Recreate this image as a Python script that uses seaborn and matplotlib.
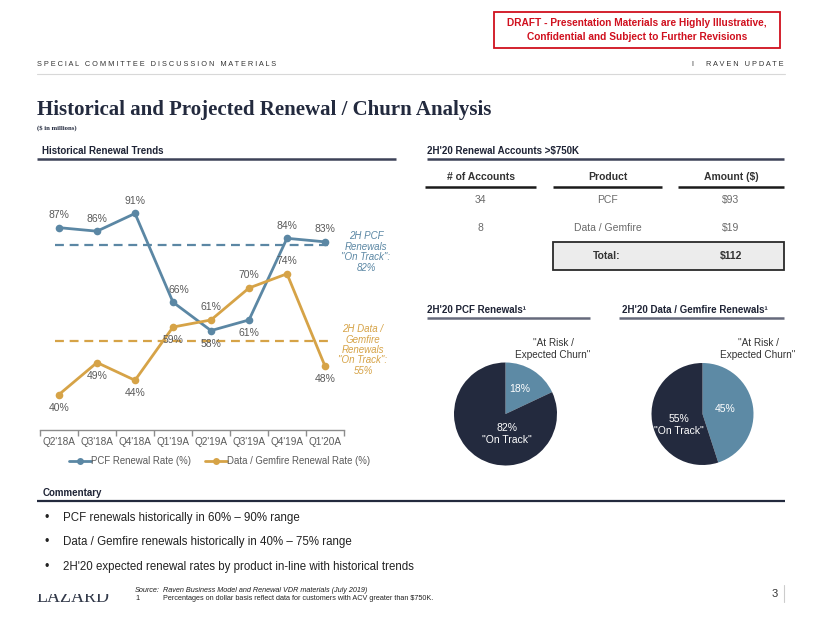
import numpy as np
import pandas as pd
import matplotlib
matplotlib.use("Agg")
import matplotlib.pyplot as plt
import seaborn as sns
from matplotlib.patches import Rectangle
from matplotlib.lines import Line2D

# ---------------- data ----------------
quarters = ["Q2'18A", "Q3'18A", "Q4'18A", "Q1'19A", "Q2'19A", "Q3'19A", "Q4'19A", "Q1'20A"]
pcf_rate = [87, 86, 91, 66, 58, 61, 84, 83]
data_rate = [40, 49, 44, 59, 61, 70, 74, 48]
pcf_label_pos = ["above", "above", "above", "above", "below", "below", "above", "above"]
data_label_pos = ["below", "below", "below", "below", "above", "above", "above", "below"]
series_names = ["PCF Renewal Rate (%)", "Data / Gemfire Renewal Rate (%)"]
pcf_target = 82
data_target = 55

table_headers = ["# of Accounts", "Product", "Amount ($)"]
table_accounts = ["34", "8"]
table_products = ["PCF", "Data / Gemfire"]
table_amounts = ["$93", "$19"]
total_amount = "$112"

pie_labels = ["At Risk / Expected Churn", "On Track"]
pcf_pie = [18, 82]
data_pie = [45, 55]

bullets = [
    "PCF renewals historically in 60% \u2013 90% range",
    "Data / Gemfire renewals historically in 40% \u2013 75% range",
    "2H'20 expected renewal rates by product in-line with historical trends",
]

# ---------------- style ----------------
BLUE = "#5b87a4"
ORANGE = "#d6a347"
NAVY = "#232a3e"
LIGHT = "#5d8aa5"
GRAY = "#5a5a5a"
RED = "#d0101e"

sns.set_theme(style="white")
plt.rcParams['font.family'] = ['Liberation Sans', 'DejaVu Sans']

W, H = 822, 635
fig = plt.figure(figsize=(8.22, 6.35), dpi=100)
fig.patch.set_facecolor("white")


def fx(x):
    return x / W


def fy(y):
    return 1 - y / H


ov = fig.add_axes([0, 0, 1, 1])
ov.set_xlim(0, W)
ov.set_ylim(H, 0)
ov.axis("off")
ov.patch.set_alpha(0)

# ---------------- header ----------------
ov.add_patch(Rectangle((494, 12), 286, 36, fill=False, edgecolor=RED, lw=1.3))
ov.text(637, 23, "DRAFT - Presentation Materials are Highly Illustrative,", color=RED,
        fontsize=7.3, fontweight="bold", ha="center", va="center")
ov.text(637, 37, "Confidential and Subject to Further Revisions", color=RED,
        fontsize=7.3, fontweight="bold", ha="center", va="center")


def spaced(s):
    return "   ".join(" ".join(w) for w in s.split(" "))


ov.text(37, 64, spaced("SPECIAL COMMITTEE DISCUSSION MATERIALS"), fontsize=5.3,
        color="#333333", ha="left", va="center")
ov.text(783, 64, "I      " + spaced("RAVEN UPDATE"), fontsize=5.3, color="#333333",
        ha="right", va="center")
ov.plot([37, 785], [74, 74], color="#d8d8d8", lw=0.8)

ov.text(37, 110, "Historical and Projected Renewal / Churn Analysis", fontsize=15,
        fontweight="bold", family=["Liberation Serif", "DejaVu Serif"], color=NAVY,
        ha="left", va="center")
ov.text(37, 128, "($ in millions)", fontsize=4.8, fontweight="bold",
        family=["Liberation Serif", "DejaVu Serif"], color=NAVY, ha="left", va="center")


def section(x0, x1, y, title, tx, lw=1.8, color="#3d4258"):
    ov.text(tx, y - 8, title, fontsize=7, fontweight="bold", color="#1f2436",
            ha="left", va="center")
    ov.plot([x0, x1], [y, y], color=color, lw=lw, solid_capstyle="butt")


section(37, 396, 159, "Historical Renewal Trends", 42)
section(427, 784, 159, "2H'20 Renewal Accounts >$750K", 427)
section(427, 590, 318, "2H'20 PCF Renewals\u00b9", 427, color="#666a7c")
section(619, 784, 318, "2H'20 Data / Gemfire Renewals\u00b9", 622, color="#666a7c")
section(37, 785, 501, "Commentary", 43, lw=1.6, color="#232a3e")

# ---------------- line chart ----------------
ax = fig.add_axes([fx(40), fy(430), fx(344) - fx(40), fy(181.5) - fy(430)])
pos = np.arange(len(quarters))
df = pd.DataFrame({
    "pos": np.concatenate([pos, pos]),
    "rate": pcf_rate + data_rate,
    "series": [series_names[0]] * len(pos) + [series_names[1]] * len(pos),
})
sns.lineplot(data=df, x="pos", y="rate", hue="series", palette=[BLUE, ORANGE],
             marker="o", markersize=5.5, markeredgewidth=0, linewidth=2.0,
             sort=False, ax=ax)
ax.set_xlim(-0.5, len(quarters) - 0.5)
ax.set_ylim(30, 100)
ax.set_xlabel("")
ax.set_ylabel("")
ax.set_yticks([])
for s in ["top", "right", "left"]:
    ax.spines[s].set_visible(False)
ax.spines["bottom"].set_color("#8c8c8c")
ax.spines["bottom"].set_linewidth(1.0)
ax.set_xticks(np.arange(-0.5, len(quarters)), labels=[""] * (len(quarters) + 1))
ax.set_xticks(pos, labels=quarters, minor=True)
ax.tick_params(axis="x", which="major", length=4, width=1, color="#8c8c8c",
               direction="out", bottom=True)
ax.tick_params(axis="x", which="minor", length=0, labelsize=7.2, labelcolor=GRAY, pad=5)
ax.patch.set_alpha(0)

for vals, where in [(pcf_rate, pcf_label_pos), (data_rate, data_label_pos)]:
    for i, (v, w) in enumerate(zip(vals, where)):
        off = 9 if w == "above" else -9.5
        ax.annotate(f"{v}%", (i, v), xytext=(4 if (i == 3 and w == "above") else 0, off),
                    textcoords="offset points", ha="center", va="center",
                    fontsize=7.5, color=GRAY)

x0f = (55 - 40) / 304
x1f = (333 - 40) / 304
ax.axhline(pcf_target, xmin=x0f, xmax=x1f, color=BLUE, lw=1.6, dashes=(4, 2.6))
ax.axhline(data_target, xmin=x0f, xmax=x1f, color=ORANGE, lw=1.6, dashes=(4, 2.6))

ov.text(366, 252, f"2H PCF\nRenewals\n\"On Track\":\n{pcf_target}%", color=BLUE,
        fontsize=7, style="italic", ha="center", va="center", linespacing=1.05)
ov.text(363, 350, f"2H Data /\nGemfire\nRenewals\n\"On Track\":\n{data_target}%",
        color=ORANGE, fontsize=7, style="italic", ha="center", va="center",
        linespacing=1.05)

handles = [Line2D([], [], color=c, lw=2, marker="o", markersize=5, markeredgewidth=0)
           for c in [BLUE, ORANGE]]
ax.legend(handles, series_names, loc="center", bbox_to_anchor=(0.59, -0.125),
          ncol=2, frameon=False, fontsize=6.9, handlelength=2.3, handletextpad=0.0,
          columnspacing=1.4, labelcolor=GRAY)

# ---------------- table ----------------
cols = [(425, 536), (553, 662), (678, 784)]
for (a, b), h in zip(cols, table_headers):
    ov.text((a + b) / 2, 177, h, fontsize=7.5, fontweight="bold", color="#333333",
            ha="center", va="center")
    ov.plot([a, b], [187, 187], color="#1a1a1a", lw=1.8, solid_capstyle="butt")
rows_y = [200, 228]
for y, acc, prod, amt in zip(rows_y, table_accounts, table_products, table_amounts):
    for (a, b), t in zip(cols, [acc, prod, amt]):
        ov.text((a + b) / 2, y, t, fontsize=7.5, color="#6a6a6a", ha="center", va="center")
ov.add_patch(Rectangle((553, 242), 231, 28, facecolor="#ececec", edgecolor="#2a2a2a", lw=1.3))
ov.text(607, 256, "Total:", fontsize=7.5, fontweight="bold", color="#333333",
        ha="center", va="center")
ov.text(731, 256, total_amount, fontsize=7.5, fontweight="bold", color="#333333",
        ha="center", va="center")


# ---------------- pies ----------------
def draw_pie(cx, cy, r, vals, risk_txt_xy, on_xy, label_xy):
    pax = fig.add_axes([fx(cx - r), fy(cy + r), 2 * r / W, 2 * r / H])
    pax.pie(vals, colors=[LIGHT, NAVY], startangle=90, counterclock=False,
            wedgeprops=dict(linewidth=0))
    pax.set_xlim(-1, 1)
    pax.set_ylim(-1, 1)
    pax.set_aspect("auto")
    pax.axis("off")
    ov.text(risk_txt_xy[0], risk_txt_xy[1], f"{vals[0]}%", color="white", fontsize=7.5,
            ha="center", va="center", zorder=10)
    ov.text(on_xy[0], on_xy[1], f"{vals[1]}%\n\"{pie_labels[1]}\"", color="white",
            fontsize=7.5, ha="center", va="center", linespacing=1.15, zorder=10)
    ov.text(label_xy[0], label_xy[1], "\"At Risk /\nExpected Churn\"", color="#333333",
            fontsize=7.2, ha="center", va="center", linespacing=1.2)


draw_pie(505.5, 414, 51.5, pcf_pie, (520, 389), (507, 434), (553, 349))
draw_pie(702.5, 414, 51, data_pie, (725, 409), (679, 425), (758, 349))
ov.set_zorder(5)

# ---------------- commentary ----------------
for y, t in zip([518, 542, 567], bullets):
    ov.text(47, y, "\u2022", fontsize=9, color="#222222", ha="center", va="center")
    ov.text(63, y, t, fontsize=8.3, color="#222222", ha="left", va="center")

# ---------------- footer ----------------
logo = ov.text(37, 602, "LAZARD", fontsize=13, family=["Liberation Serif", "DejaVu Serif"],
               color="#333a4a", ha="left", va="baseline")
clip = Rectangle((30, 594), 90, 20, transform=ov.transData)
logo.set_clip_path(clip)
logo.set_clip_on(True)
ov.text(135, 590, "Source:", fontsize=5.2, style="italic", color="#222222",
        ha="left", va="center")
ov.text(163, 590, "Raven Business Model and Renewal VDR materials (July 2019)", fontsize=5.2,
        style="italic", color="#222222", ha="left", va="center")
ov.text(135, 599, "1", fontsize=5.2, color="#222222", ha="left", va="center")
ov.text(163, 599, "Percentages on dollar basis reflect data for customers with ACV greater than $750K.",
        fontsize=5.2, color="#222222", ha="left", va="center")
ov.text(775, 594, "3", fontsize=8, color="#333333", ha="center", va="center")
ov.plot([784, 784], [585, 602], color="#cccccc", lw=0.8)

fig.savefig("out.png", dpi=100)
